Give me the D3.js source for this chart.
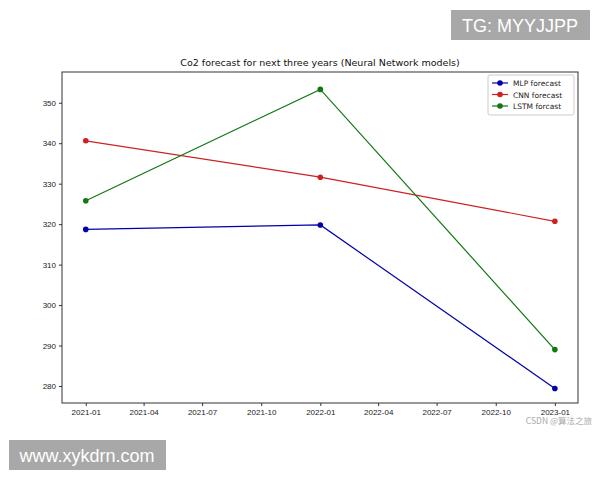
<!DOCTYPE html>
<html><head><meta charset="utf-8">
<script src="https://cdn.jsdelivr.net/npm/d3@7"></script>
<style>body{margin:0;background:#fff;font-family:"DejaVu Sans",sans-serif}</style>
</head><body><div id="chart"></div>
<script>
var dates = ["2021-01-01", "2022-01-01", "2023-01-01"];
var mlp = [318.7, 319.8, 279.4];
var cnn = [340.6, 331.6, 320.7];
var lstm = [325.8, 353.3, 289.0];
var yTicks = [280, 290, 300, 310, 320, 330, 340, 350];
var seriesNames = ["MLP forecast", "CNN forecast", "LSTM forcast"];
var colors = ["#0000aa", "#cc2222", "#117711"];

var parse = d3.timeParse("%Y-%m-%d");
var svg = d3.select("#chart").append("svg").attr("width", 600).attr("height", 480);

// plot frame
var pLeft = 62, pRight = 578, pTop = 72, pBottom = 403;
var x = d3.scaleTime()
  .domain([parse("2020-11-25"), parse("2023-02-06")])
  .range([pLeft, pRight]);
var y = d3.scaleLinear().domain([275.8, 357.6]).range([pBottom, pTop]);

svg.append("rect").attr("x", pLeft).attr("y", pTop)
  .attr("width", pRight - pLeft).attr("height", pBottom - pTop)
  .attr("fill", "none").attr("stroke", "#333").attr("stroke-width", 1);

var xa = svg.append("g").attr("transform", "translate(0," + pBottom + ")")
  .call(d3.axisBottom(x).ticks(d3.timeMonth.every(3)).tickFormat(d3.timeFormat("%Y-%m")).tickSize(3).tickPadding(3));
var ya = svg.append("g").attr("transform", "translate(" + pLeft + ",0)")
  .call(d3.axisLeft(y).tickValues(yTicks).tickSize(3).tickPadding(3));
[xa, ya].forEach(function (a) {
  a.select(".domain").remove();
  a.selectAll("text").attr("font-size", 8).attr("fill", "#222");
  a.selectAll("line").attr("stroke", "#333");
});

svg.append("text").attr("x", (pLeft + pRight) / 2).attr("y", 66)
  .attr("text-anchor", "middle").attr("font-size", 9.5).attr("fill", "#111")
  .text("Co2 forecast for next three years (Neural Network models)");

var line = d3.line().x(function (d) { return x(d.date); }).y(function (d) { return y(d.v); });
[mlp, cnn, lstm].forEach(function (s, i) {
  var pts = s.map(function (v, j) { return { date: parse(dates[j]), v: v }; });
  svg.append("path").datum(pts).attr("d", line).attr("fill", "none")
    .attr("stroke", colors[i]).attr("stroke-width", 1.2);
  svg.selectAll(null).data(pts).enter().append("circle")
    .attr("cx", function (d) { return x(d.date); })
    .attr("cy", function (d) { return y(d.v); })
    .attr("r", 2.8).attr("fill", colors[i]);
});

// legend
var lg = svg.append("g").attr("transform", "translate(488,75)");
lg.append("rect").attr("width", 86).attr("height", 40).attr("fill", "#fff")
  .attr("stroke", "#ccc").attr("rx", 2);
seriesNames.forEach(function (n, i) {
  var yy = 8 + i * 11.5;
  lg.append("line").attr("x1", 4).attr("x2", 20).attr("y1", yy).attr("y2", yy)
    .attr("stroke", colors[i]).attr("stroke-width", 1.2);
  lg.append("circle").attr("cx", 12).attr("cy", yy).attr("r", 2.8).attr("fill", colors[i]);
  lg.append("text").attr("x", 25).attr("y", yy + 3).attr("font-size", 7.5).attr("fill", "#222").text(n);
});

// watermarks
svg.append("rect").attr("x", 451).attr("y", 10).attr("width", 139).attr("height", 30).attr("fill", "#a8a8a8");
svg.append("text").attr("x", 520).attr("y", 32).attr("text-anchor", "middle")
  .attr("font-family", "Liberation Sans, sans-serif").attr("font-size", 18).attr("fill", "#fff").text("TG: MYYJJPP");
svg.append("rect").attr("x", 9).attr("y", 440).attr("width", 157).attr("height", 30).attr("fill", "#a8a8a8");
svg.append("text").attr("x", 87).attr("y", 462).attr("text-anchor", "middle")
  .attr("font-family", "Liberation Sans, sans-serif").attr("font-size", 18).attr("fill", "#fff").text("www.xykdrn.com");
svg.append("text").attr("x", 592).attr("y", 424).attr("text-anchor", "end")
  .attr("font-family", "Noto Sans CJK SC, sans-serif").attr("font-size", 8.5).attr("fill", "#aaa").text("CSDN @算法之旅");
</script></body></html>
